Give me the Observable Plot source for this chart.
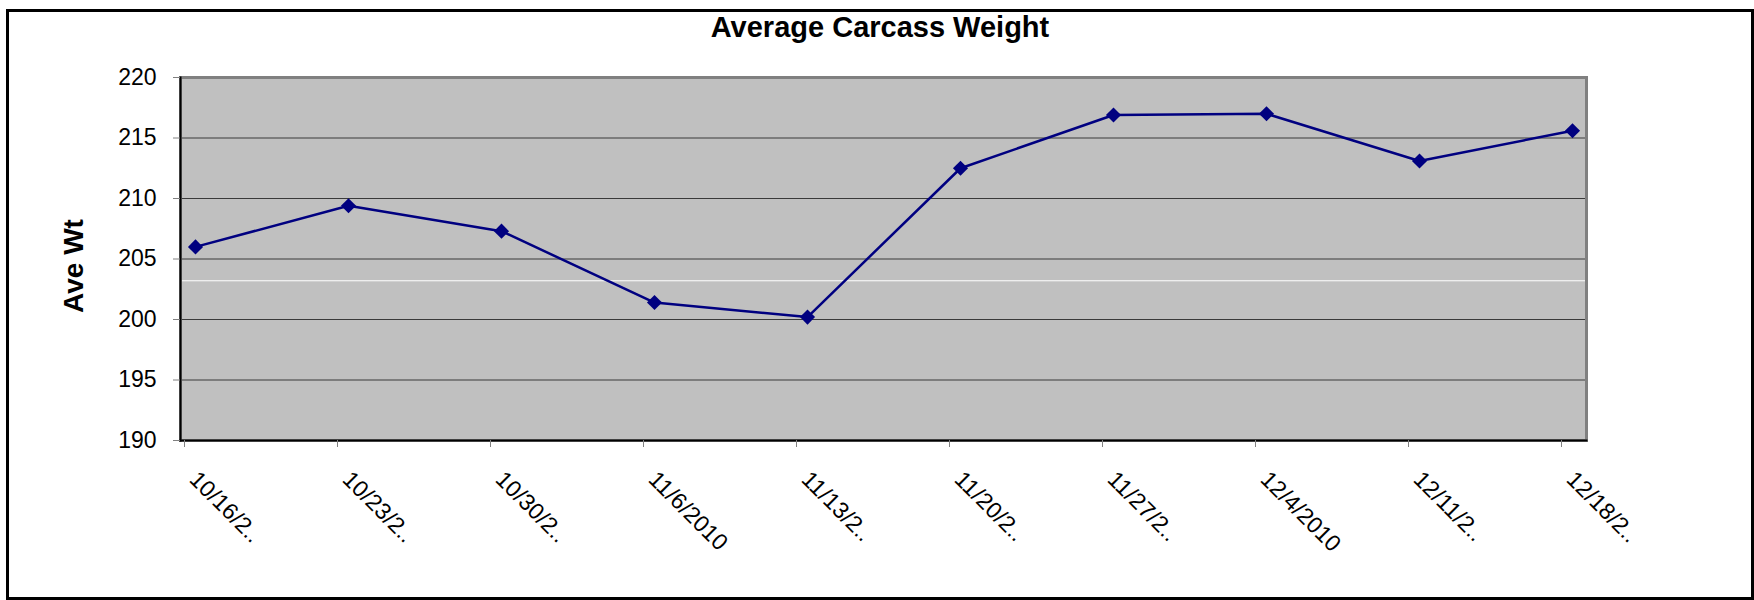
<!DOCTYPE html>
<html>
<head>
<meta charset="utf-8">
<script src="https://cdn.jsdelivr.net/npm/d3@7"></script>
<script src="https://cdn.jsdelivr.net/npm/@observablehq/plot@0.6"></script>
<style>
  html, body { margin: 0; padding: 0; background: #fff; }
  #wrap { position: relative; width: 1754px; height: 600px; overflow: hidden; background: #fff;
          font-family: "Liberation Sans", Arial, sans-serif; }
  #border { position: absolute; left: 6px; top: 9px; width: 1748px; height: 591px; box-sizing: border-box;
            border: 3px solid #000; pointer-events: none; }
  #title { position: absolute; left: 6px; top: 13px; width: 1748px; text-align: center;
           font-size: 29px; line-height: 28px; font-weight: bold; color: #000; }
  #chart { position: absolute; left: 0; top: 50px; }
</style>
</head>
<body>
<div id="wrap">
  <div id="title">Average Carcass Weight</div>
  <div id="chart"></div>
  <div id="border"></div>
</div>
<script>
const dates = ["10/16/2010", "10/23/2010", "10/30/2010", "11/6/2010", "11/13/2010",
               "11/20/2010", "11/27/2010", "12/4/2010", "12/11/2010", "12/18/2010"];
const tickLabels = ["10/16/2..", "10/23/2..", "10/30/2..", "11/6/2010", "11/13/2..",
                    "11/20/2..", "11/27/2..", "12/4/2010", "12/11/2..", "12/18/2.."];
const aveWt = [206.0, 209.4, 207.3, 201.4, 200.2, 212.5, 216.9, 217.0, 213.1, 215.6];
const yTicks = [190, 195, 200, 205, 210, 215, 220];
const gridValues = [195, 200, 205, 210, 215];
const whiteGuide = [203.2];
const yLabel = "Ave Wt";

const data = dates.map((d, i) => ({date: d, wt: aveWt[i]}));
const font = '"Liberation Sans", Arial, sans-serif';

const chart = Plot.plot({
  width: 1754,
  height: 550,
  marginLeft: 180,
  marginRight: 168,
  marginTop: 27,
  marginBottom: 160,
  style: {fontFamily: font, background: "transparent", overflow: "visible"},
  x: {type: "point", domain: dates, padding: 0.0715},
  y: {domain: [190, 220]},
  marks: [
    Plot.frame({fill: "#C0C0C0", stroke: null}),
    Plot.ruleY(gridValues, {stroke: "#3a3a3a", strokeWidth: 1}),
    Plot.ruleY(whiteGuide, {stroke: "#ffffff", strokeWidth: 1}),
    Plot.frame({stroke: "#808080", strokeWidth: 3}),
    Plot.frame({anchor: "left", stroke: "#000", strokeWidth: 2}),
    Plot.frame({anchor: "bottom", stroke: "#000", strokeWidth: 2}),
    Plot.axisY({ticks: yTicks, tickSize: 7, tickPadding: 17, fontSize: 23, stroke: "#808080", fill: "#000", label: null}),
    Plot.axisX({tickSize: 7, dx: -11, stroke: "#808080", tickFormat: () => "", label: null}),
    Plot.axisX({tickSize: 0, tickPadding: 35, dx: -2, tickRotate: 45, fontSize: 23, fill: "#000",
                tickFormat: d => tickLabels[dates.indexOf(d)], label: null}),
    Plot.text([yLabel], {frameAnchor: "left", textAnchor: "middle", text: d => d, dx: -106, dy: 7, rotate: -90,
                         fontSize: 28, fontWeight: "bold", fill: "#000"}),
    Plot.line(data, {x: "date", y: "wt", stroke: "#000080", strokeWidth: 2.5}),
    Plot.dot(data, {x: "date", y: "wt", symbol: "diamond2", r: 6.8, fill: "#000080", stroke: null})
  ]
});
document.getElementById("chart").appendChild(chart);
</script>
</body>
</html>
